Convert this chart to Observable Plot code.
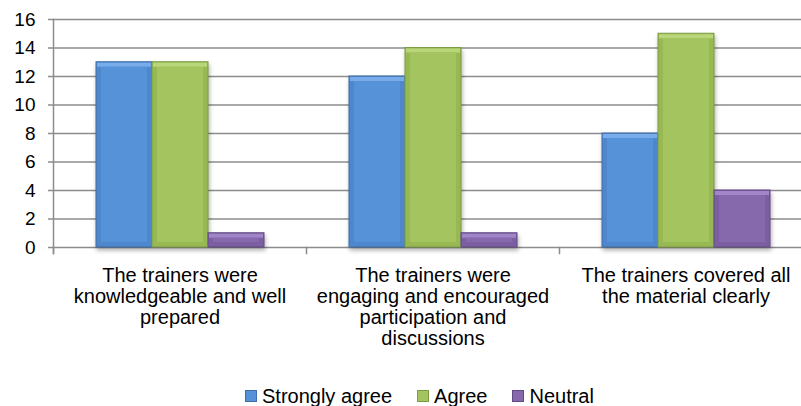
<!DOCTYPE html>
<html><head><meta charset="utf-8">
<script src="https://cdn.jsdelivr.net/npm/d3@7"></script>
<script src="https://cdn.jsdelivr.net/npm/@observablehq/plot@0.6"></script>
<style>
html,body{margin:0;padding:0;background:#fff;overflow:hidden;width:801px;height:406px;}
#chart{width:801px;overflow:hidden}
#chart svg{display:block;max-width:none !important;}
.legend{display:flex;align-items:center;padding-left:245px;font:20px "Liberation Sans",Arial,sans-serif;line-height:22px;height:22px;white-space:nowrap;color:#000}
.item{display:flex;align-items:center;margin-right:25px}
.sw{width:12px;height:12px;margin-right:5px;box-sizing:border-box;border:1px solid}
</style></head><body>
<div id="chart"></div>
<div class="legend" id="legend"></div>
<script>
const questions = [
  "The trainers were knowledgeable and well prepared",
  "The trainers were engaging and encouraged participation and discussions",
  "The trainers covered all the material clearly"
];
const questionLines = [
  "The trainers were\nknowledgeable and well\nprepared",
  "The trainers were\nengaging and encouraged\nparticipation and\ndiscussions",
  "The trainers covered all\nthe material clearly"
];
const series = ["Strongly agree", "Agree", "Neutral"];
const stronglyAgree = [13, 12, 8];
const agree = [13, 14, 15];
const neutral = [1, 1, 4];
const yTicks = [0, 2, 4, 6, 8, 10, 12, 14, 16];
const fillColors = ["#5592d8", "#a3c45e", "#8668ad"];
const lightColors = ["#78acea", "#b9d67a", "#a185c8"];
const edgeColors = ["#4e87cb", "#98b854", "#7b5fa1"];
const strokeColors = ["#3f6ea8", "#7e9d42", "#624b85"];

const seriesValues = [stronglyAgree, agree, neutral];
const rows = questions.flatMap((q, i) => series.map((s, j) => ({question: q, series: s, value: seriesValues[j][i]})));
const si = d => series.indexOf(d.series);

const FONT = '"Liberation Sans", Arial, sans-serif';
const gridColor = "#8c8c8c";

const plot = Plot.plot({
  width: 812,
  height: 385,
  marginLeft: 52,
  marginRight: 0,
  marginTop: 19,
  marginBottom: 138,
  style: {fontFamily: FONT, fontSize: "19px", color: "#000", background: "white", maxWidth: "none"},
  fx: {domain: questions, padding: 0, axis: null},
  x: {domain: series, paddingInner: 0, paddingOuter: 0.75, axis: null},
  y: {domain: [0, 16], label: null},
  marks: [
    Plot.ruleY(yTicks, {stroke: gridColor, strokeWidth: 1.5}),
    Plot.barY(rows, {
      fx: "question", x: "series", y: "value",
      fill: d => edgeColors[si(d)],
      stroke: d => strokeColors[si(d)],
      strokeWidth: 1,
      imageFilter: "drop-shadow(1px 3px 2px rgba(0,0,0,0.3))"
    }),
    Plot.rectY(rows, {
      fx: "question", x: "series", y1: "value", y2: "value",
      fill: d => lightColors[si(d)],
      insetLeft: 1, insetRight: 1, insetTop: 1, insetBottom: -5
    }),
    Plot.barY(rows, {
      fx: "question", x: "series", y: "value",
      fill: d => fillColors[si(d)],
      inset: 5
    }),
    Plot.frame({anchor: "left", facetAnchor: "left", stroke: gridColor, strokeWidth: 1.5, insetBottom: -6}),
    Plot.frame({anchor: "left", stroke: gridColor, strokeWidth: 1.5, insetTop: 228, insetBottom: -6}),
    Plot.axisY({ticks: yTicks, tickSize: 5, tickPadding: 13, stroke: gridColor, strokeWidth: 1.5, fontSize: 19, label: null}),
    Plot.text(questions, {
      fx: d => d,
      text: (d, i) => questionLines[i],
      frameAnchor: "bottom",
      dy: 20,
      lineAnchor: "top",
      lineHeight: 1.05,
      fontSize: 20,
      fill: "#000"
    })
  ]
});
document.getElementById("chart").appendChild(plot);

const legend = document.getElementById("legend");
series.forEach((s, i) => {
  const item = document.createElement("div");
  item.className = "item";
  const sw = document.createElement("span");
  sw.className = "sw";
  sw.style.background = fillColors[i];
  sw.style.borderColor = strokeColors[i];
  const label = document.createElement("span");
  label.textContent = s;
  item.appendChild(sw);
  item.appendChild(label);
  legend.appendChild(item);
});
</script>
</body></html>
